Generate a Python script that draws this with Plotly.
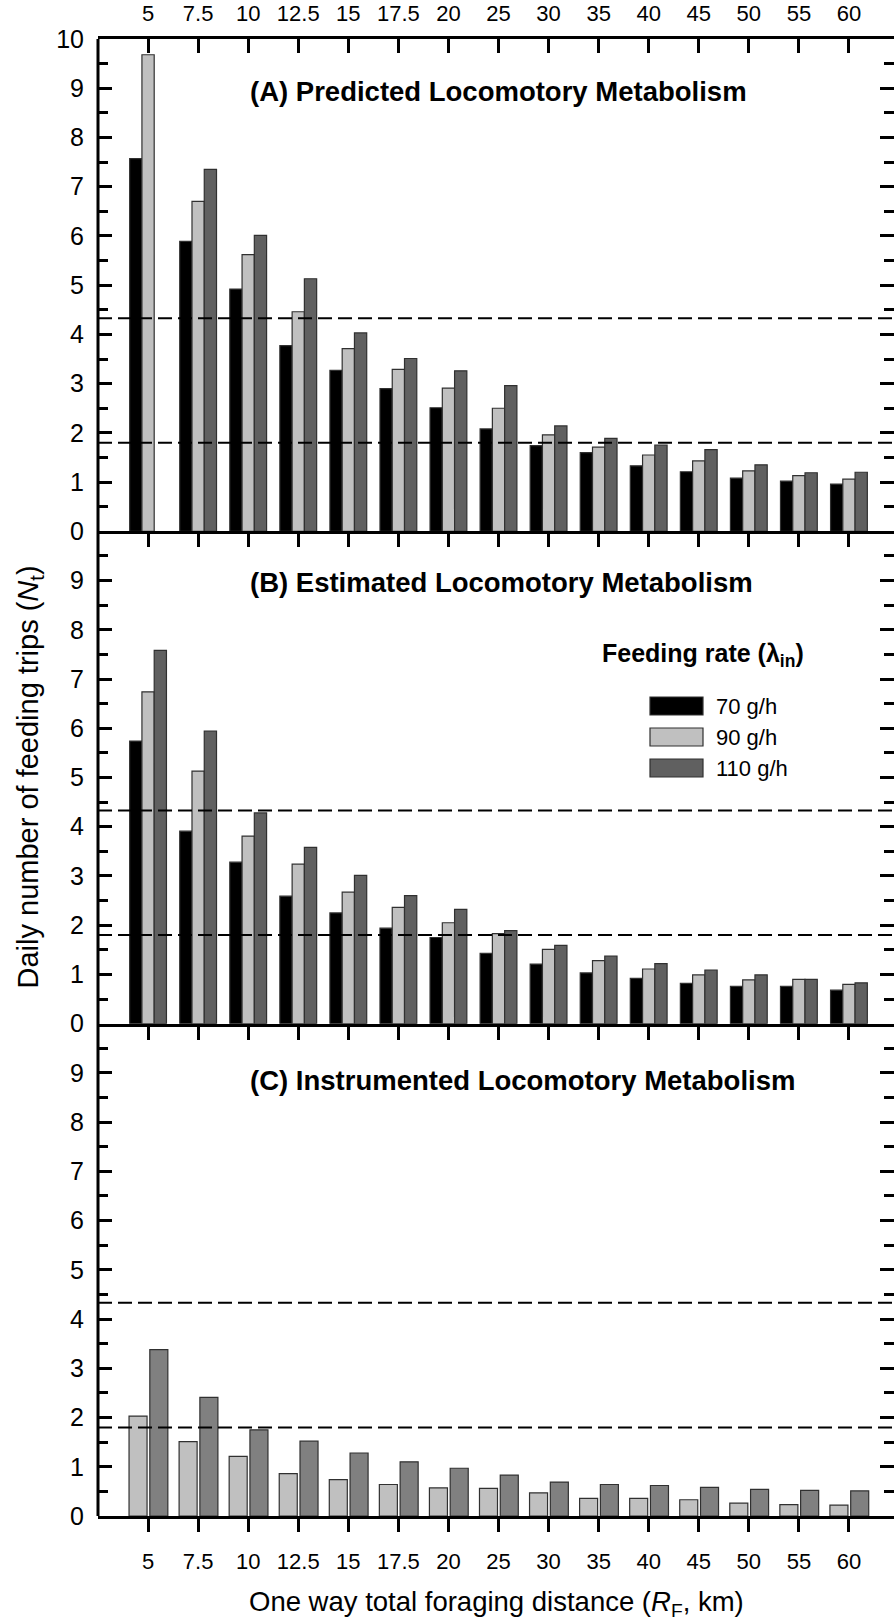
import plotly.graph_objects as go

# Foraging distance categories (km) and feeding-rate series
distance_labels = ["5", "7.5", "10", "12.5", "15", "17.5", "20", "25",
                   "30", "35", "40", "45", "50", "55", "60"]
rate_names = ["70 g/h", "90 g/h", "110 g/h"]

# (A) Predicted locomotory metabolism
pred_70 = [7.57, 5.89, 4.92, 3.77, 3.27, 2.90, 2.51, 2.08, 1.74, 1.60, 1.33, 1.21, 1.08, 1.02, 0.96]
pred_90 = [9.68, 6.70, 5.62, 4.46, 3.71, 3.29, 2.91, 2.50, 1.96, 1.71, 1.55, 1.43, 1.23, 1.13, 1.06]
pred_110 = [None, 7.35, 6.01, 5.13, 4.03, 3.51, 3.26, 2.96, 2.14, 1.89, 1.75, 1.66, 1.35, 1.19, 1.20]

# (B) Estimated locomotory metabolism
est_70 = [5.74, 3.91, 3.28, 2.59, 2.25, 1.94, 1.75, 1.43, 1.21, 1.03, 0.92, 0.82, 0.76, 0.76, 0.68]
est_90 = [6.74, 5.13, 3.81, 3.24, 2.67, 2.36, 2.05, 1.83, 1.51, 1.28, 1.11, 0.99, 0.89, 0.90, 0.80]
est_110 = [7.58, 5.94, 4.28, 3.58, 3.01, 2.60, 2.32, 1.89, 1.59, 1.37, 1.22, 1.09, 0.99, 0.90, 0.83]

# (C) Instrumented locomotory metabolism
inst_90 = [2.03, 1.51, 1.21, 0.86, 0.74, 0.64, 0.57, 0.56, 0.47, 0.36, 0.36, 0.33, 0.26, 0.23, 0.22]
inst_110 = [3.38, 2.41, 1.75, 1.52, 1.28, 1.10, 0.97, 0.83, 0.69, 0.64, 0.62, 0.58, 0.54, 0.52, 0.51]

# Horizontal reference levels drawn in every panel
ref_levels = [4.33, 1.8]

W, H = 894, 1621
ML, MR, MT, MB = 98, 0, 39, 105
PW, PH = W - ML - MR, H - MT - MB
FONT = "Liberation Sans, Arial, Helvetica, sans-serif"


def px_x(px):
    return (px - ML) / PW


def px_y(py):
    return (H - MB - py) / PH


idx = list(range(len(distance_labels)))
BLACK, LIGHT, DARK, DARK_C = "#000000", "#c0c0c0", "#606060", "#808080"
OUTLINE = dict(color="#303030", width=1.2)

fig = go.Figure()

w3 = 0.245
three_offsets = [-1.5 * w3, -0.5 * w3, 0.5 * w3]
panels3 = [("x", "y", [pred_70, pred_90, pred_110]),
           ("x2", "y2", [est_70, est_90, est_110])]
for xa, ya, series in panels3:
    for vals, col, off, name in zip(series, [BLACK, LIGHT, DARK], three_offsets, rate_names):
        fig.add_trace(go.Bar(x=idx, y=vals, width=w3, offset=off, xaxis=xa, yaxis=ya,
                             marker=dict(color=col, line=OUTLINE), name=name,
                             showlegend=False))

w2 = 0.36
for vals, col, off, name in zip([inst_90, inst_110], [LIGHT, DARK_C], [-0.38, 0.035], rate_names[1:]):
    fig.add_trace(go.Bar(x=idx, y=vals, width=w2, offset=off, xaxis="x3", yaxis="y3",
                         marker=dict(color=col, line=OUTLINE), name=name, showlegend=False))

xrange_ = [-1, 14.9]
xcommon = dict(range=xrange_, tickmode="array", tickvals=idx, ticktext=distance_labels,
               showgrid=False, zeroline=False, showline=True, linewidth=3, linecolor="black",
               ticks="outside", ticklen=13, tickwidth=3, tickcolor="black",
               tickfont=dict(family=FONT, size=22, color="black"))

ycommon = dict(range=[0, 10], showgrid=False, zeroline=False, showline=False,
               ticks="inside", ticklen=14, tickwidth=3, tickcolor="black", mirror="ticks",
               minor=dict(tickmode="linear", tick0=0, dtick=0.5, ticks="inside", ticklen=10,
                          tickwidth=3, tickcolor="black"),
               tickfont=dict(family=FONT, size=25, color="black"), ticklabelstandoff=13)

fig.update_layout(
    width=W, height=H, margin=dict(l=ML, r=MR, t=MT, b=MB),
    paper_bgcolor="white", plot_bgcolor="white", barmode="overlay",
    xaxis=dict(xcommon, anchor="y", showticklabels=False),
    xaxis2=dict(xcommon, anchor="y2", showticklabels=False),
    xaxis3=dict(xcommon, anchor="y3", showticklabels=True, ticklabelstandoff=11),
    xaxis4=dict(xcommon, anchor="y", overlaying="x", side="top", ticks="inside",
                ticklen=14, showticklabels=True, ticklabelstandoff=6),
    yaxis=dict(ycommon, domain=[2 / 3, 1], anchor="x", tickvals=list(range(0, 11))),
    yaxis2=dict(ycommon, domain=[1 / 3, 2 / 3], anchor="x2", tickvals=list(range(0, 10))),
    yaxis3=dict(ycommon, domain=[0, 1 / 3], anchor="x3", tickvals=list(range(0, 10))),
)

# invisible trace so the top axis is rendered
fig.add_trace(go.Scatter(x=[idx[0]], y=[0], xaxis="x4", yaxis="y", mode="markers",
                         marker=dict(opacity=0), showlegend=False, hoverinfo="skip"))

shapes = [dict(type="line", xref="paper", yref="paper", x0=0, x1=0, y0=0, y1=1,
               line=dict(color="black", width=3))]
for ya in ["y", "y2", "y3"]:
    for lvl in ref_levels:
        shapes.append(dict(type="line", xref="paper", yref=ya, x0=0, x1=1, y0=lvl, y1=lvl,
                           line=dict(color="black", width=2, dash="14px,6px"), layer="above"))

# Legend drawn inside panel B
leg_rows = [706, 737, 768]
for name, col, cy in zip(rate_names, [BLACK, LIGHT, DARK], leg_rows):
    shapes.append(dict(type="rect", xref="paper", yref="paper",
                       x0=px_x(650), x1=px_x(703), y0=px_y(cy + 9), y1=px_y(cy - 9),
                       fillcolor=col, line=dict(color="#303030", width=1.2)))

annotations = []
for name, cy in zip(rate_names, leg_rows):
    annotations.append(dict(text=name, xref="paper", yref="paper", x=px_x(714), y=px_y(cy),
                            xanchor="left", yanchor="middle", showarrow=False,
                            font=dict(family=FONT, size=22, color="black")))
annotations.append(dict(text="<b>Feeding rate (λ<sub>in</sub>)</b>", xref="paper", yref="paper",
                        x=px_x(600), y=px_y(655), xanchor="left", yanchor="middle",
                        showarrow=False, font=dict(family=FONT, size=25, color="black")))

panel_titles = ["(A) Predicted Locomotory Metabolism",
                "(B) Estimated Locomotory Metabolism",
                "(C) Instrumented Locomotory Metabolism"]
for title, cy in zip(panel_titles, [92, 582, 1080]):
    annotations.append(dict(text="<b>" + title + "</b>", xref="paper", yref="paper",
                            x=px_x(248), y=px_y(cy), xanchor="left", yanchor="middle",
                            showarrow=False, font=dict(family=FONT, size=27.5, color="black")))

annotations.append(dict(text="One way total foraging distance (<i>R</i><sub>F</sub>, km)",
                        xref="paper", yref="paper", x=0.5, y=px_y(1603),
                        xanchor="center", yanchor="middle", showarrow=False,
                        font=dict(family=FONT, size=27.5, color="black")))
annotations.append(dict(text="Daily number of feeding trips (<i>N</i><sub>t</sub>)",
                        xref="paper", yref="paper", x=px_x(29), y=0.5, textangle=-90,
                        xanchor="center", yanchor="middle", showarrow=False,
                        font=dict(family=FONT, size=29, color="black")))

fig.update_layout(shapes=shapes, annotations=annotations)
fig.write_html("out.html")
